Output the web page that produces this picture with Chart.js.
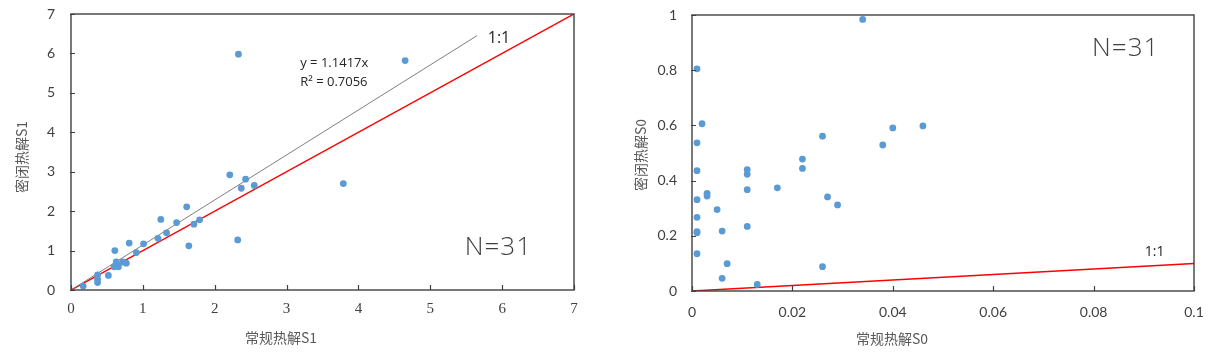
<!DOCTYPE html>
<html><head><meta charset="utf-8">
<script src="https://cdn.jsdelivr.net/npm/chart.js@4/dist/chart.umd.min.js"></script>
<style>
body{margin:0;background:#fff;width:1216px;height:357px;overflow:hidden;position:relative}
.box{position:absolute;top:0;width:608px;height:357px}
</style></head><body>
<div class="box" style="left:0"><canvas id="c1" width="608" height="357"></canvas></div>
<div class="box" style="left:608px"><canvas id="c2" width="608" height="357"></canvas></div>
<script>
// ---- Chart 1 data: S1 ----
const s1Conv   = [0.17,0.37,0.37,0.37,0.52,0.61,0.63,0.60,0.66,0.72,0.77,0.81,0.91,1.01,1.21,1.25,1.33,1.47,1.61,1.64,1.71,1.79,2.21,2.33,2.32,2.37,2.43,2.55,3.79,4.65,0.65];
const s1Closed = [0.10,0.38,0.27,0.19,0.37,1.00,0.71,0.59,0.59,0.71,0.68,1.19,0.95,1.17,1.31,1.79,1.45,1.71,2.11,1.12,1.67,1.78,2.92,5.98,1.27,2.58,2.81,2.65,2.70,5.82,0.62];
const s1OneX = [0, 7];
const s1OneY = [0, 7];
const s1TrendX = [0, 5.65];
const s1TrendY = [0, 6.45];
const s1TickLabels = ['0','1','2','3','4','5','6','7'];

// ---- Chart 2 data: S0 ----
const s0Conv   = [0.001,0.002,0.001,0.001,0.001,0.001,0.001,0.001,0.003,0.003,0.005,0.006,0.007,0.006,0.011,0.011,0.011,0.011,0.013,0.017,0.022,0.022,0.026,0.027,0.029,0.026,0.034,0.038,0.040,0.046,0.001];
const s0Closed = [0.805,0.606,0.537,0.436,0.331,0.267,0.211,0.135,0.354,0.344,0.295,0.217,0.099,0.046,0.440,0.423,0.367,0.234,0.024,0.374,0.478,0.444,0.561,0.341,0.312,0.088,0.984,0.529,0.591,0.598,0.215];
const s0OneX = [0, 0.1];
const s0OneY = [0, 0.1];
const s0XTickLabels = ['0','0.02','0.04','0.06','0.08','0.1'];
const s0YTickLabels = ['0','0.2','0.4','0.6','0.8','1'];

const pts = (xs, ys) => xs.map((x, i) => ({x, y: ys[i]}));
const DOT = '#5B9BD5';
const FRAME = '#404040';

const framePlugin = {
  id: 'frameTicks',
  afterDraw(chart) {
    const {ctx, chartArea: a, scales: {x, y}} = chart;
    ctx.save();
    ctx.strokeStyle = FRAME;
    ctx.lineWidth = 1.4;
    ctx.strokeRect(a.left, a.top, a.right - a.left, a.bottom - a.top);
    ctx.lineWidth = 1.2;
    ctx.beginPath();
    x.ticks.forEach(t => {
      const px = Math.round(x.getPixelForValue(t.value)) + 0.5;
      ctx.moveTo(px, a.bottom); ctx.lineTo(px, a.bottom - 5);
    });
    y.ticks.forEach(t => {
      const py = Math.round(y.getPixelForValue(t.value)) + 0.5;
      ctx.moveTo(a.left - 1, py); ctx.lineTo(a.left + 4, py);
    });
    ctx.stroke();
    // annotations
    (chart.options.plugins.frameTicks.texts || []).forEach(tx => {
      ctx.font = tx.font;
      ctx.fillStyle = tx.color;
      ctx.textAlign = tx.align || 'left';
      ctx.textBaseline = 'middle';
      const px = x.getPixelForValue(tx.x), py = y.getPixelForValue(tx.y);
      if (tx.spacing) {
        let cx = px;
        for (const ch of tx.text) { ctx.fillText(ch, cx, py); cx += ctx.measureText(ch).width + tx.spacing; }
      } else ctx.fillText(tx.text, px, py);
    });
    // axis titles
    const tt = chart.options.plugins.frameTicks.titles;
    ctx.fillStyle = '#595959';
    ctx.textAlign = 'center';
    ctx.textBaseline = 'middle';
    ctx.font = '14px "Noto Sans CJK SC"';
    ctx.fillText(tt.x, tt.xx, tt.xy);
    ctx.save();
    ctx.translate(tt.yx, tt.yy);
    ctx.rotate(-Math.PI / 2);
    ctx.fillText(tt.y, 0, 0);
    ctx.restore();
    ctx.restore();
  }
};

function makeChart(id, cfg) {
  return new Chart(document.getElementById(id), {
    type: 'scatter',
    data: {
      datasets: [
        {data: cfg.points, backgroundColor: DOT, borderWidth: 0, pointRadius: 3.4, pointHoverRadius: 3.4, order: 1},
        ...cfg.lines.map(l => ({type: 'line', data: l.data, borderColor: l.color, borderWidth: l.width,
          pointRadius: 0, fill: false, showLine: true, order: 2}))
      ]
    },
    options: {
      responsive: false,
      animation: false,
      layout: {padding: cfg.pad},
      plugins: {legend: {display: false}, tooltip: {enabled: false},
        frameTicks: {texts: cfg.texts, titles: cfg.titles}},
      scales: {
        x: {type: 'linear', min: cfg.xMin, max: cfg.xMax,
          grid: {display: false, drawTicks: false}, border: {display: false},
          afterFit: s => { s.height = cfg.xH; s.paddingLeft = 0; s.paddingRight = 0; },
          ticks: {stepSize: cfg.xStep, padding: cfg.xPad, color: '#404040', font: cfg.xFont,
            maxRotation: 0, autoSkip: false,
            callback: (v, i) => cfg.xLabels[i]}},
        y: {type: 'linear', min: cfg.yMin, max: cfg.yMax,
          grid: {display: false, drawTicks: false}, border: {display: false},
          afterFit: s => { s.width = cfg.yW; s.paddingTop = 0; s.paddingBottom = 0; },
          ticks: {stepSize: cfg.yStep, padding: cfg.yPad, color: '#404040', font: cfg.yFont,
            autoSkip: false,
            callback: (v, i) => cfg.yLabels[i]}}
      }
    },
    plugins: [framePlugin]
  });
}

makeChart('c1', {
  points: pts(s1Conv, s1Closed),
  lines: [
    {data: pts(s1TrendX, s1TrendY), color: '#7F7F7F', width: 1},
    {data: pts(s1OneX, s1OneY), color: '#FF0000', width: 1.5}
  ],
  pad: {left: 0, top: 14, right: 34, bottom: 0},
  xMin: 0, xMax: 7, xStep: 1, xLabels: s1TickLabels, xH: 67, xPad: 10,
  xFont: {family: '"Liberation Serif", serif', size: 15},
  yMin: 0, yMax: 7, yStep: 1, yLabels: s1TickLabels, yW: 71, yPad: 16,
  yFont: {family: 'Lato, "Open Sans", sans-serif', size: 14},
  texts: [
    {text: 'y = 1.1417x', x: 3.19, y: 5.76, font: '13px "Open Sans"', color: '#262626'},
    {text: 'R² = 0.7056', x: 3.19, y: 5.28, font: '13px "Open Sans"', color: '#262626'},
    {text: '1:1', x: 5.80, y: 6.39, font: '16px "Open Sans"', color: '#262626'},
    {text: 'N=31', x: 5.48, y: 1.07, font: '300 26px "Open Sans"', color: '#404040', spacing: 1}
  ],
  titles: {x: '常规热解S1', xx: 281, xy: 338, y: '密闭热解S1', yx: 22, yy: 157}
});

makeChart('c2', {
  points: pts(s0Conv, s0Closed),
  lines: [
    {data: pts(s0OneX, s0OneY), color: '#FF0000', width: 1.5}
  ],
  pad: {left: 0, top: 15, right: 22, bottom: 0},
  xMin: 0, xMax: 0.1, xStep: 0.02, xLabels: s0XTickLabels, xH: 66, xPad: 13,
  xFont: {family: 'Lato, "Open Sans", sans-serif', size: 14},
  yMin: 0, yMax: 1, yStep: 0.2, yLabels: s0YTickLabels, yW: 84, yPad: 15,
  yFont: {family: 'Lato, "Open Sans", sans-serif', size: 14},
  texts: [
    {text: '1:1', x: 0.0902, y: 0.141, font: '14px "Open Sans"', color: '#262626'},
    {text: 'N=31', x: 0.0797, y: 0.880, font: '300 26px "Open Sans"', color: '#404040', spacing: 1}
  ],
  titles: {x: '常规热解S0', xx: 892 - 608, xy: 339, y: '密闭热解S0', yx: 641 - 608, yy: 155}
});
</script>
</body></html>
